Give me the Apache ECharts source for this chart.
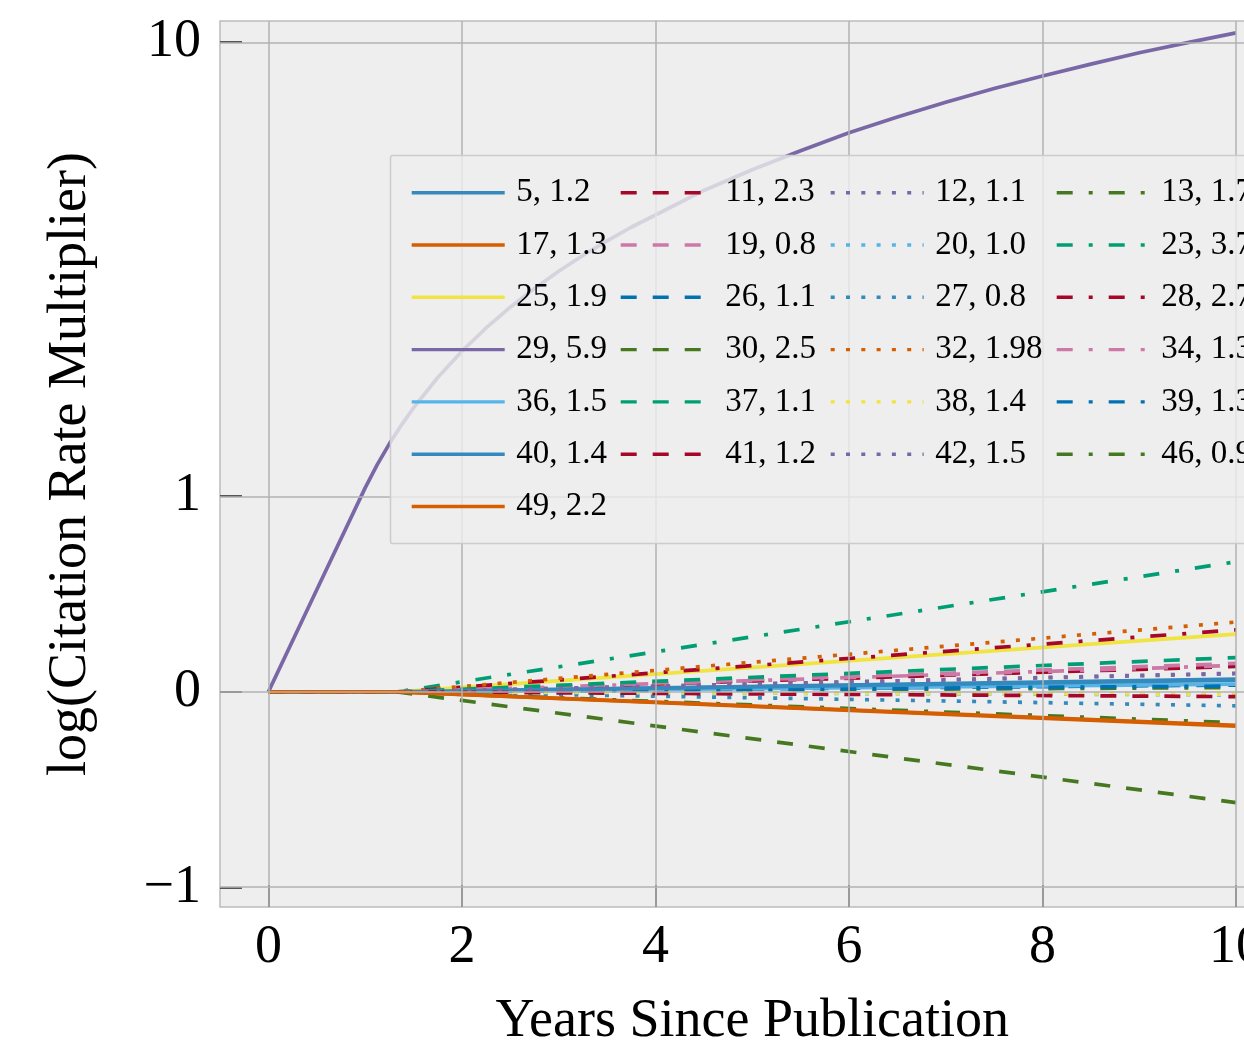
<!DOCTYPE html>
<html><head><meta charset="utf-8">
<script src="https://cdn.jsdelivr.net/npm/echarts@6/dist/echarts.min.js"></script>
<style>html,body{margin:0;padding:0;background:#fff;}#c{width:1244px;height:1045px;}</style>
</head><body><div id="c"></div>
<script>
// ---------- data ----------
const legendLabels = ['5, 1.2','11, 2.3','12, 1.1','13, 1.7',
  '17, 1.3','19, 0.8','20, 1.0','23, 3.7',
  '25, 1.9','26, 1.1','27, 0.8','28, 2.7',
  '29, 5.9','30, 2.5','32, 1.98','34, 1.3',
  '36, 1.5','37, 1.1','38, 1.4','39, 1.3',
  '40, 1.4','41, 1.2','42, 1.5','46, 0.9',
  '49, 2.2'];
const startYear = 1.33;      // year where the flat part ends
const endYear = 10;
const endValues = [0.065, 0.13, 0.093, 0.022,
  -0.175, 0.145, -0.015, 0.663,
  0.294, 0.035, -0.071, 0.316,
  null, -0.564, 0.356, 0.135,
  0.04, 0.175, -0.012, 0.03,
  0.06, -0.024, 0.095, -0.157,
  -0.17];
const purpleIndex = 12;
const purpleYears  = [0, 0.5, 1, 1.125, 1.25, 1.375, 1.5, 1.75, 2, 2.25, 2.5, 2.75, 3, 3.25, 3.5, 3.75, 4, 4.5, 5, 5.5, 6, 6.5, 7, 7.5, 8, 8.5, 9, 9.5, 10];
const purpleValues = [0, 0.52, 1.04, 1.17, 1.3, 1.43, 1.56, 1.82, 2.08, 2.34, 2.6, 2.86, 3.12, 3.38, 3.64, 3.9, 4.15, 4.7, 5.22, 5.75, 6.3, 6.82, 7.35, 7.88, 8.4, 8.92, 9.45, 9.95, 10.45];
const xTicks = [0, 2, 4, 6, 8, 10];
const yTicks = [-1, 0, 1, 10];
const yTickLabels = ['\u22121', '0', '1', '10'];
const xLimits = [-0.5, 10.5];
const yLimits = [-1.1, 11.1];

// ---------- styles ----------
const palette = ['#348ABD','#A60628','#7A68A6','#467821','#D55E00','#CC79A7','#56B4E9','#009E73','#F0E442','#0072B2'];
const dashes = ['solid', [16, 16], [4, 11.3], [16, 16, 4, 16]];
const FONT = '"Liberation Serif", "DejaVu Serif", serif';

// symlog-like transform (linear in [-1,1], log10 outside)
const A = 196 / 453.3;
function T(v) {
  if (Math.abs(v) <= 1) return v * A;
  return Math.sign(v) * (A + Math.log10(Math.abs(v)));
}

const series = [];
// grid lines series
series.push({
  type: 'line', name: '__grid', data: [[0, 0]], symbol: 'none', silent: true,
  lineStyle: { width: 0 }, z: 1,
  markLine: {
    silent: true, symbol: 'none', animation: false,
    label: { show: false },
    lineStyle: { color: '#b2b2b2', width: 1.5, type: 'solid' },
    emphasis: { disabled: true },
    data: yTicks.map(v => ({ yAxis: T(v) })).concat(xTicks.map(v => ({ xAxis: v })))
  }
});
legendLabels.forEach((name, i) => {
  let data;
  if (i === purpleIndex) {
    data = purpleYears.map((x, k) => [x, T(purpleValues[k])]);
  } else {
    data = [[0, 0], [startYear, 0], [endYear, T(endValues[i])]];
  }
  series.push({
    type: 'line', name: name, data: data, symbol: 'none', showSymbol: false,
    silent: true, z: 2,
    color: palette[i % 10],
    lineStyle: { color: palette[i % 10], width: 3.7, type: dashes[i % 4], cap: 'butt', join: 'round' },
    emphasis: { disabled: true }
  });
});

const colLeft = [410, 619, 829, 1055];
const legends = colLeft.map((left, c) => ({
  orient: 'vertical', left: left, top: 174.7, padding: 0, z: 20,
  itemWidth: 93, itemHeight: 14, itemGap: 16.3,
  selectedMode: false,
  data: legendLabels.filter((_, i) => i % 4 === c),
  textStyle: { fontFamily: FONT, fontSize: 33, color: '#000', lineHeight: 36, padding: [0, 0, 0, 6.5] },
  lineStyle: { width: 3.4 },
  itemStyle: { color: 'rgba(0,0,0,0)', borderColor: 'rgba(0,0,0,0)', borderWidth: 0 }
}));

const chart = echarts.init(document.getElementById('c'), null, { renderer: 'canvas' });
chart.setOption({
  animation: false,
  backgroundColor: '#ffffff',
  grid: { left: 220, top: 21, width: 1064.4, height: 886, show: true,
          outerBoundsMode: 'none', containLabel: false,
          backgroundColor: '#eeeeee', borderColor: '#bcbcbc', borderWidth: 1.5 },
  xAxis: {
    type: 'value', min: xLimits[0], max: xLimits[1],
    name: 'Years Since Publication', nameLocation: 'middle', nameGap: 88,
    nameTextStyle: { fontFamily: FONT, fontSize: 54, color: '#000' },
    axisLine: { show: false, onZero: false },
    splitLine: { show: false },
    axisTick: { show: true, inside: true, length: 22, customValues: xTicks,
                lineStyle: { color: '#444', width: 1.8 } },
    axisLabel: { customValues: xTicks, margin: 14, fontFamily: FONT, fontSize: 54, color: '#000',
                 formatter: v => String(v) }
  },
  yAxis: {
    type: 'value', min: T(yLimits[0]), max: T(yLimits[1]),
    name: 'log(Citation Rate Multiplier)', nameLocation: 'middle', nameGap: 122,
    nameTextStyle: { fontFamily: FONT, fontSize: 54, color: '#000' },
    axisLine: { show: false, onZero: false },
    splitLine: { show: false },
    axisTick: { show: true, inside: true, length: 22, customValues: yTicks.map(T),
                lineStyle: { color: '#444', width: 1.8 } },
    axisLabel: { customValues: yTicks.map(T), margin: 19, fontFamily: FONT, fontSize: 54, color: '#000',
                 formatter: v => {
                   let best = 0, bd = Infinity;
                   yTicks.forEach((t, k) => { const d = Math.abs(T(t) - v); if (d < bd) { bd = d; best = k; } });
                   return yTickLabels[best];
                 } }
  },
  legend: legends,
  graphic: { z: 10, zlevel: 0, elements: [{
    type: 'rect', z: 10, zlevel: 0, silent: true,
    shape: { x: 390.5, y: 155.5, width: 900, height: 388, r: 2 },
    style: { fill: 'rgba(238,238,238,0.8)', stroke: '#cccccc', lineWidth: 1.5 }
  }]},
  series: series
});
</script>
</body></html>
